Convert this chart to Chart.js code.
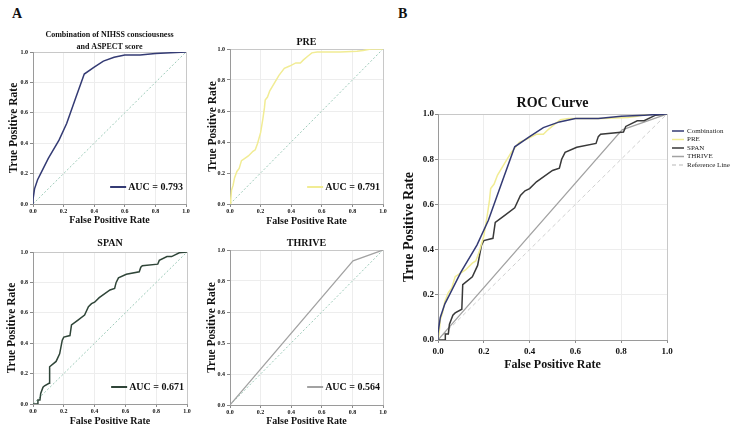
<!DOCTYPE html>
<html>
<head>
<meta charset="utf-8">
<script src="https://cdn.jsdelivr.net/npm/chart.js@4.4.1/dist/chart.umd.min.js"></script>
<style>
  body { margin: 0; background: #fff; }
  #page { position: relative; width: 745px; height: 434px; overflow: hidden; background: #fff; }
  #page canvas { position: absolute; }
  .panel-tag { position: absolute; font: bold 14px "Liberation Serif", serif; color: #111; line-height: 16px; }
</style>
</head>
<body>
<div id="page">
  <div class="panel-tag" style="left:12px;top:6px;">A</div>
  <div class="panel-tag" style="left:398px;top:6px;">B</div>
  <canvas id="c-combo" width="193" height="210" style="left:0;top:20px;"></canvas>
  <canvas id="c-pre" width="195" height="210" style="left:195px;top:20px;"></canvas>
  <canvas id="c-span" width="195" height="202" style="left:0;top:232px;"></canvas>
  <canvas id="c-thrive" width="195" height="202" style="left:195px;top:232px;"></canvas>
  <canvas id="c-roc" width="350" height="300" style="left:395px;top:80px;"></canvas>
</div>
<script>
// ---- data ----
const seriesNames = ['Combination', 'PRE', 'SPAN', 'THRIVE'];
const aucValues   = [0.793, 0.791, 0.671, 0.564];

const comboFpr = [0, 0, 0.01, 0.03, 0.05, 0.10, 0.17, 0.22, 0.28, 0.335, 0.40, 0.46, 0.53, 0.60, 0.70, 0.80, 0.90, 1.0];
const comboTpr = [0, 0.03, 0.10, 0.16, 0.20, 0.30, 0.42, 0.53, 0.70, 0.855, 0.90, 0.94, 0.965, 0.98, 0.98, 0.99, 0.995, 1.0];

const preFpr = [0, 0.005, 0.01, 0.02, 0.03, 0.045, 0.06, 0.075, 0.09, 0.12, 0.15, 0.165, 0.18, 0.20, 0.215, 0.225, 0.23, 0.245, 0.26, 0.29, 0.32, 0.355, 0.39, 0.43, 0.46, 0.48, 0.51, 0.535, 0.57, 0.72, 0.83, 0.87, 0.92, 1.0];
const preTpr = [0, 0.03, 0.09, 0.12, 0.17, 0.21, 0.23, 0.28, 0.29, 0.31, 0.34, 0.35, 0.39, 0.46, 0.55, 0.62, 0.67, 0.69, 0.73, 0.78, 0.83, 0.875, 0.89, 0.91, 0.91, 0.93, 0.955, 0.975, 0.98, 0.98, 0.985, 0.99, 1.0, 1.0];

const spanFpr = [0, 0.032, 0.032, 0.045, 0.05, 0.065, 0.075, 0.104, 0.108, 0.15, 0.173, 0.19, 0.20, 0.24, 0.25, 0.29, 0.335, 0.36, 0.38, 0.40, 0.43, 0.50, 0.53, 0.54, 0.555, 0.606, 0.69, 0.70, 0.71, 0.81, 0.82, 0.87, 0.90, 0.95, 1.0];
const spanTpr = [0, 0, 0.026, 0.026, 0.07, 0.11, 0.12, 0.136, 0.245, 0.28, 0.33, 0.42, 0.44, 0.45, 0.52, 0.55, 0.585, 0.64, 0.66, 0.67, 0.70, 0.75, 0.76, 0.80, 0.83, 0.853, 0.87, 0.90, 0.91, 0.92, 0.945, 0.97, 0.97, 0.995, 1.0];

const thriveFpr = [0, 0.804, 1.0];
const thriveTpr = [0, 0.93, 1.0];

const refFpr = [0, 1];
const refTpr = [0, 1];

const tickLabels       = ['0.0', '0.2', '0.4', '0.6', '0.8', '1.0'];
const thriveYTickLabels = ['0.0', '0.4', '0.5', '0.6', '0.8', '1.0'];  // as printed in the figure

// ---- helpers ----
const SERIF = '"Liberation Serif", "Times New Roman", serif';
Chart.defaults.font.family = SERIF;
Chart.defaults.color = '#111';

const zip = (xs, ys) => xs.map((x, i) => ({ x: x, y: ys[i] }));

const aucLegend = {
  id: 'aucLegend',
  afterDatasetsDraw(chart, args, opts) {
    if (!opts.text) return;
    const { ctx, chartArea } = chart;
    const ds = chart.data.datasets[0];
    ctx.save();
    ctx.font = 'bold 10px ' + SERIF;
    ctx.textAlign = 'right';
    ctx.textBaseline = 'middle';
    const y = chartArea.bottom - opts.offsetY;
    const xr = chartArea.right - 3;
    const w = ctx.measureText(opts.text).width;
    ctx.fillStyle = '#111';
    ctx.fillText(opts.text, xr, y);
    ctx.strokeStyle = ds.borderColor;
    ctx.lineWidth = 2;
    ctx.beginPath();
    ctx.moveTo(xr - w - 18, y);
    ctx.lineTo(xr - w - 2, y);
    ctx.stroke();
    ctx.restore();
  }
};

const sideLegend = {
  id: 'sideLegend',
  afterDraw(chart, args, opts) {
    if (!opts.show) return;
    const { ctx, chartArea } = chart;
    ctx.save();
    ctx.font = '7px ' + SERIF;
    ctx.textAlign = 'left';
    ctx.textBaseline = 'middle';
    chart.data.datasets.forEach((ds, i) => {
      const y = chartArea.top + 17 + i * 8.5;
      const x = chartArea.right + 5;
      ctx.strokeStyle = ds.borderColor;
      ctx.lineWidth = 1.5;
      ctx.setLineDash(ds.borderDash || []);
      ctx.beginPath();
      ctx.moveTo(x, y);
      ctx.lineTo(x + 12, y);
      ctx.stroke();
      ctx.setLineDash([]);
      ctx.fillStyle = '#222';
      ctx.fillText(ds.label, x + 15, y);
    });
    ctx.restore();
  }
};

function curve(label, xs, ys, color, width, dash) {
  return {
    label: label,
    data: zip(xs, ys),
    showLine: true,
    borderColor: color,
    backgroundColor: color,
    borderWidth: width,
    borderDash: dash || [],
    pointRadius: 0,
    tension: 0,
    fill: false
  };
}

function rocChart(id, lay, datasets, legendOpts) {
  const [bx, by, bw, bh] = lay.box;
  const [al, at, ar, ab] = lay.area;
  const titleLines = Array.isArray(lay.title) ? lay.title.length : 1;
  const tlh = lay.titleSize * lay.titleLh;
  const tpt = lay.titleY - by - tlh / 2;
  const tpb = at - by - tpt - titleLines * tlh;
  const xlh = lay.xTitleSize * 1.2;
  const ylh = lay.yTitleSize * 1.2;
  const yWidth = al - bx;
  const xHeight = by + bh - ab;
  const gridColor = c => (c.tick && c.tick.value === 1 ? '#c8c8c8' : '#ededed');
  const yLabels = lay.yTickLabels || tickLabels;

  return new Chart(document.getElementById(id), {
    type: 'scatter',
    data: { datasets: datasets },
    plugins: [aucLegend, sideLegend],
    options: {
      responsive: false,
      animation: false,
      devicePixelRatio: 1,
      layout: { padding: { left: 0, top: 0, bottom: 0, right: bx + bw - ar } },
      plugins: {
        legend: { display: false },
        tooltip: { enabled: false },
        title: {
          display: true,
          text: lay.title,
          fullSize: false,
          font: { size: lay.titleSize, weight: 'bold', lineHeight: lay.titleLh },
          padding: { top: tpt, bottom: tpb },
          color: '#111'
        },
        aucLegend: legendOpts.auc || {},
        sideLegend: legendOpts.side || {}
      },
      scales: {
        x: {
          type: 'linear', min: 0, max: 1,
          afterFit: s => { s.height = xHeight; },
          ticks: {
            stepSize: 0.2, maxRotation: 0, padding: lay.tickPad,
            font: { size: lay.tickSize, weight: 'bold' },
            callback: (v, i) => tickLabels[i]
          },
          grid: { color: gridColor, tickColor: '#8a8a8a', tickLength: 3 },
          border: { color: '#9a9a9a', width: 1 },
          title: {
            display: true, text: 'False Positive Rate',
            font: { size: lay.xTitleSize, weight: 'bold', lineHeight: 1.2 },
            padding: { top: 0, bottom: by + bh - lay.xTitleY - xlh / 2 }
          }
        },
        y: {
          type: 'linear', min: 0, max: 1,
          afterFit: s => { s.width = yWidth; },
          ticks: {
            stepSize: 0.2, padding: lay.tickPadY,
            font: { size: lay.tickSize, weight: 'bold' },
            callback: (v, i) => yLabels[i]
          },
          grid: { color: gridColor, tickColor: '#8a8a8a', tickLength: 3 },
          border: { color: '#9a9a9a', width: 1 },
          title: {
            display: true, text: 'True Positive Rate',
            font: { size: lay.yTitleSize, weight: 'bold', lineHeight: 1.2 },
            padding: { top: lay.yTitleX - bx - ylh / 2, bottom: 0 }
          }
        }
      }
    }
  });
}

// ---- colours ----
const COMBO_COLOR  = '#343b74';
const PRE_COLOR    = '#f1ec94';
const SPAN_COLOR_A = '#2f4538';
const SPAN_COLOR_B = '#393939';
const THRIVE_COLOR = '#a2a2a2';
const DIAG_COLOR   = '#9ccab8';
const REF_COLOR    = '#cfcfcf';

const smallPanel = { titleLh: 1.2, titleSize: 10, xTitleSize: 10, yTitleSize: 11.5, tickSize: 6, tickPad: 1, tickPadY: 2 };
const diag = () => curve('Reference Line', refFpr, refTpr, DIAG_COLOR, 1, [2, 2]);

// Panel A: four single-curve charts
rocChart('c-combo', Object.assign({}, smallPanel, {
  box: [0, 20, 193, 210], area: [33, 52, 186, 204],
  title: ['Combination of NIHSS consciousness', 'and ASPECT score'], titleSize: 8, titleLh: 1.5,
  titleY: 35, xTitleY: 220.5, yTitleX: 14
}), [curve(seriesNames[0], comboFpr, comboTpr, COMBO_COLOR, 1.5), diag()],
  { auc: { text: 'AUC = ' + aucValues[0].toFixed(3), offsetY: 17 } });

rocChart('c-pre', Object.assign({}, smallPanel, {
  box: [195, 20, 195, 210], area: [230, 49, 383, 204],
  title: seriesNames[1], titleY: 42, xTitleY: 221, yTitleX: 213
}), [curve(seriesNames[1], preFpr, preTpr, PRE_COLOR, 1.5), diag()],
  { auc: { text: 'AUC = ' + aucValues[1].toFixed(3), offsetY: 17 } });

rocChart('c-span', Object.assign({}, smallPanel, {
  box: [0, 232, 195, 202], area: [33, 252, 187, 404],
  title: seriesNames[2], titleY: 243.5, xTitleY: 421.5, yTitleX: 12.5
}), [curve(seriesNames[2], spanFpr, spanTpr, SPAN_COLOR_A, 1.5), diag()],
  { auc: { text: 'AUC = ' + aucValues[2].toFixed(3), offsetY: 17 } });

rocChart('c-thrive', Object.assign({}, smallPanel, {
  box: [195, 232, 195, 202], area: [230, 250, 383, 405],
  title: seriesNames[3], titleY: 243, xTitleY: 421.5, yTitleX: 212,
  yTickLabels: thriveYTickLabels
}), [curve(seriesNames[3], thriveFpr, thriveTpr, THRIVE_COLOR, 1.2), diag()],
  { auc: { text: 'AUC = ' + aucValues[3].toFixed(3), offsetY: 18 } });

// Panel B: all curves together
rocChart('c-roc', {
  box: [395, 80, 350, 300], area: [438, 114, 667, 340],
  title: 'ROC Curve', titleSize: 14, titleLh: 1.2, titleY: 103,
  xTitleSize: 12, yTitleSize: 14, xTitleY: 365, yTitleX: 409,
  tickSize: 9, tickPad: 3, tickPadY: 1
}, [
  curve(seriesNames[0], comboFpr, comboTpr, COMBO_COLOR, 1.5),
  curve(seriesNames[1], preFpr, preTpr, PRE_COLOR, 1.5),
  curve(seriesNames[2], spanFpr, spanTpr, SPAN_COLOR_B, 1.5),
  curve(seriesNames[3], thriveFpr, thriveTpr, THRIVE_COLOR, 1.2),
  curve('Reference Line', refFpr, refTpr, REF_COLOR, 1, [4, 3])
], { side: { show: true } });
</script>
</body>
</html>
